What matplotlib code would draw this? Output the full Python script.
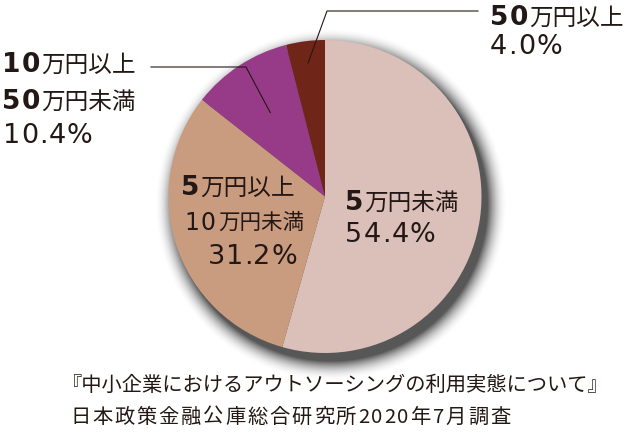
import matplotlib
matplotlib.use('Agg')
import matplotlib.pyplot as plt
import numpy as np

plt.rcParams['font.family'] = ['Noto Sans CJK JP', 'DejaVu Sans']

categories = ['5万円未満', '5万円以上10万円未満', '10万円以上50万円未満', '50万円以上']
values = [54.4, 31.2, 10.4, 4.0]
pct_labels = ['54.4%', '31.2%', '10.4%', '4.0%']
colors = ['#DBBFB9', '#C99C80', '#973B88', '#6F2619']
source_lines = ['『中小企業におけるアウトソーシングの利用実態について』',
                '日本政策金融公庫総合研究所2020年7月調査']

W, H = 640, 440
fig = plt.figure(figsize=(6.4, 4.4), dpi=100)
ax = fig.add_axes([0, 0, 1, 1])
cx, cy, R = 325, H - 196.5, 156.5

# soft drop shadow
xs = np.arange(W) + 0.5
ys = np.arange(H) + 0.5
X, Y = np.meshgrid(xs, ys)
d = np.hypot(X - (cx + 6), Y - (cy - 8)) - R
a = 0.8 * np.clip(1 - d / 20.0, 0, 1) ** 2
rgba = np.zeros((H, W, 4))
rgba[..., :3] = 0.18
rgba[..., 3] = a
ax.imshow(rgba, extent=(0, W, 0, H), origin='lower', zorder=0, interpolation='bilinear')

wedges, _ = ax.pie(values, colors=colors, startangle=90, counterclock=False,
                   center=(cx, cy), radius=R, frame=True,
                   wedgeprops=dict(linewidth=0, zorder=2))
ax.set_xlim(0, W)
ax.set_ylim(0, H)
ax.set_aspect('equal')
ax.axis('off')

renderer = fig.canvas.get_renderer()

NUMB = dict(family='DejaVu Sans', weight='bold')
NUMR = dict(family='DejaVu Sans', weight='normal')
JP = dict(family=['Noto Sans CJK JP', 'DejaVu Sans'], weight='normal')
INK = '#231815'


def runs(x, y, parts):
    """parts: list of (text, fontdict, size, tracking_px)"""
    for s, fd, size, track in parts:
        for ch in (s if track else [s]):
            t = ax.text(x, H - y, ch, va='center', ha='left', fontsize=size,
                        color=INK, zorder=5, **fd)
            w = t.get_window_extent(renderer).width
            x += w + track


# outside labels
runs(490, 18, [('50', NUMB, 19, 1), ('万円以上', JP, 17, 0)])
runs(490, 47, [(pct_labels[3], NUMR, 19.5, 1.2)])
runs(2, 65, [('10', NUMB, 19, 1), ('万円以上', JP, 17, 0)])
runs(2, 102, [('50', NUMB, 19, 1), ('万円未満', JP, 17, 0)])
runs(3, 136, [(pct_labels[2], NUMR, 19.5, 0.8)])

# inside labels
runs(181, 188, [('5', NUMB, 19, 1), ('万円以上', JP, 17, 0)])
runs(184, 223, [('10', NUMR, 17, 2), ('万円未満', JP, 15.5, 0)])
runs(208, 257, [(pct_labels[1], NUMR, 19.5, 0.8)])
runs(345, 203, [('5', NUMB, 19, 1), ('万円未満', JP, 17, 0)])
runs(345, 235, [(pct_labels[0], NUMR, 19.5, 1.2)])


# leader lines (anchored inside wedges by their angles)
def inside(w, frac):
    ang = np.deg2rad((w.theta1 + w.theta2) / 2)
    return cx + frac * R * np.cos(ang), cy + frac * R * np.sin(ang)


px, py = inside(wedges[3], 0.86)
ax.plot([478, 327, px], [H - 11, H - 11, py], color=INK, lw=0.8, zorder=6)
px, py = inside(wedges[2], 0.64)
ax.plot([151, 246, px], [H - 67, H - 67, py], color=INK, lw=0.8, zorder=6)

# source
runs(62, 385, [(source_lines[0], JP, 14.6, 0)])
runs(70, 417, [(source_lines[1], JP, 14.6, 1.9)])

fig.savefig('out.png', dpi=100)
